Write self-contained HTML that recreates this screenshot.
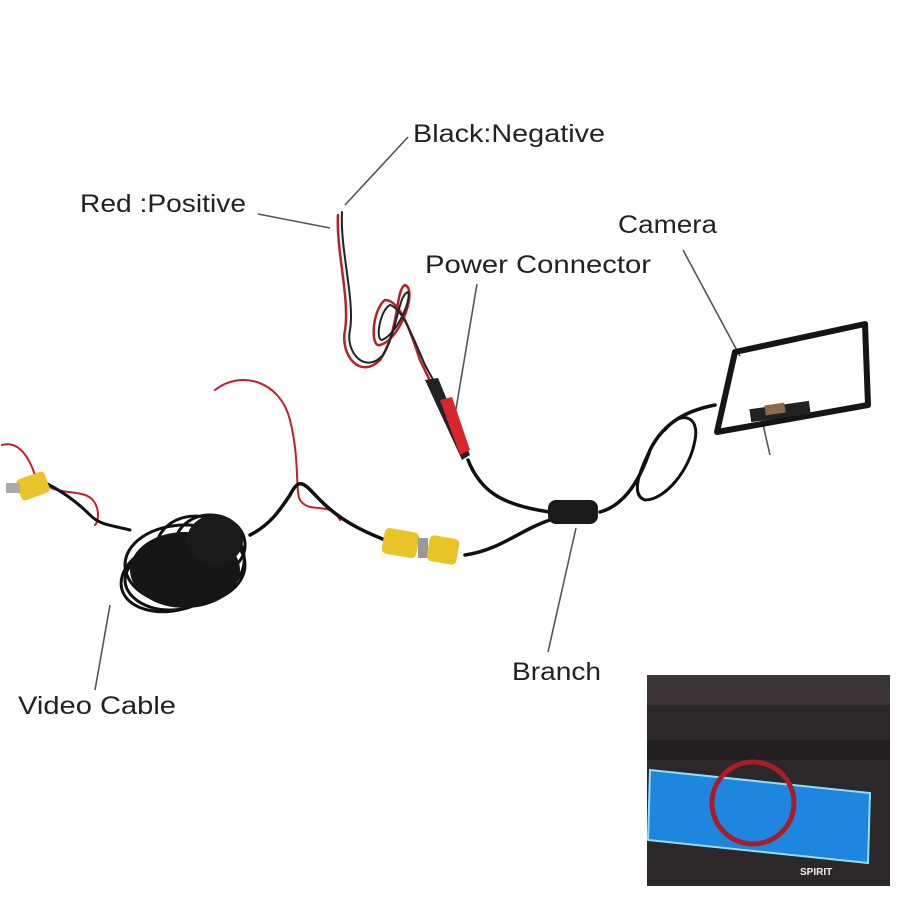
<!DOCTYPE html>
<html><head><style>
html,body{margin:0;padding:0;background:#fff;}
svg{display:block}
text{font-family:"Liberation Sans",sans-serif;font-size:25px;fill:#222}
</style></head><body>
<svg width="900" height="900" viewBox="0 0 900 900">
<rect width="900" height="900" fill="#fff"/>
<g stroke="#555" stroke-width="1.6" fill="none">
<line x1="408" y1="137" x2="345" y2="205"/>
<line x1="258" y1="214" x2="330" y2="228"/>
<line x1="683" y1="250" x2="740" y2="356"/>
<line x1="477" y1="284" x2="455" y2="415"/>
<line x1="576" y1="528" x2="548" y2="652"/>
<line x1="110" y1="605" x2="95" y2="690"/>
<line x1="762" y1="420" x2="770" y2="455"/>
</g>
<g fill="none" stroke-linecap="round">
<path d="M338,215 C336,250 350,300 345,330 C340,355 360,380 380,360 C400,330 395,290 405,285 C418,290 400,340 380,345 C370,348 372,310 385,300 C400,300 410,330 420,360 L432,385" stroke="#b5222a" stroke-width="2.5"/>
<path d="M342,212 C340,250 355,300 350,330 C345,352 365,375 383,355 C398,330 398,295 408,292 C412,300 396,335 382,340 C375,340 380,310 390,305 C402,308 412,335 425,365 L436,385" stroke="#222" stroke-width="2"/>
<path d="M215,390 C240,370 280,380 290,420 C300,460 295,490 300,500 C310,515 330,500 340,520" stroke="#c0202a" stroke-width="2"/>
<path d="M2,445 C20,440 30,460 35,475 C50,495 70,490 85,495 C100,500 100,520 95,525" stroke="#c0202a" stroke-width="2"/>
<path d="M468,460 C480,490 500,505 550,512" stroke="#111" stroke-width="3.5"/>
<path d="M600,512 C625,505 640,480 650,450 C665,420 690,410 715,405" stroke="#111" stroke-width="3.5"/>
<path d="M650,450 C640,470 630,495 645,500 C665,500 690,470 695,440 C700,415 680,410 665,430" stroke="#111" stroke-width="3"/>
<path d="M550,520 C520,530 500,550 465,555" stroke="#111" stroke-width="3.5"/>
<path d="M385,540 C360,530 340,520 320,500 C305,485 300,475 290,495 C280,510 270,525 250,535" stroke="#111" stroke-width="3.5"/>
<path d="M40,480 C60,490 75,500 90,515 C100,525 110,525 130,530" stroke="#111" stroke-width="3"/>
</g>
<g fill="none" stroke="#111" stroke-width="3">
<ellipse cx="185" cy="565" rx="60" ry="40"/>
<ellipse cx="175" cy="575" rx="55" ry="35" transform="rotate(-15 175 575)"/>
<ellipse cx="200" cy="555" rx="45" ry="38" transform="rotate(20 200 555)"/>
<ellipse cx="170" cy="580" rx="45" ry="30"/>
<ellipse cx="210" cy="545" rx="35" ry="30"/>
</g>
<ellipse cx="185" cy="570" rx="55" ry="38" fill="#161616"/>
<ellipse cx="215" cy="540" rx="28" ry="25" fill="#1a1a1a"/>
<path d="M425,380 L438,378 L470,455 L462,460 Z" fill="#222"/>
<path d="M440,400 L452,397 L470,450 L460,455 Z" fill="#d8262a"/>
<rect x="548" y="500" width="50" height="24" rx="8" fill="#1a1a1a"/>
<rect x="383" y="530" width="35" height="26" rx="5" fill="#e9c428" transform="rotate(10 400 543)"/>
<rect x="418" y="538" width="10" height="20" fill="#999"/>
<rect x="428" y="537" width="30" height="26" rx="5" fill="#e9c428" transform="rotate(10 443 550)"/>
<rect x="18" y="475" width="30" height="22" rx="4" fill="#e9c428" transform="rotate(-20 33 486)"/>
<rect x="6" y="483" width="14" height="10" fill="#aaa"/>
<path d="M735,352 L865,324 L868,405 L717,432 Z" fill="none" stroke="#151515" stroke-width="6" stroke-linejoin="round"/>
<rect x="750" y="405" width="60" height="13" fill="#222" transform="rotate(-8 780 411)"/>
<rect x="765" y="404" width="20" height="10" fill="#8a6a50" transform="rotate(-8 775 409)"/>
<text x="413" y="142" textLength="192" lengthAdjust="spacingAndGlyphs">Black:Negative</text>
<text x="80" y="212" textLength="166" lengthAdjust="spacingAndGlyphs">Red :Positive</text>
<text x="618" y="233" textLength="99" lengthAdjust="spacingAndGlyphs">Camera</text>
<text x="425" y="273" textLength="226" lengthAdjust="spacingAndGlyphs">Power Connector</text>
<text x="512" y="680" textLength="89" lengthAdjust="spacingAndGlyphs">Branch</text>
<text x="18" y="714" textLength="158" lengthAdjust="spacingAndGlyphs">Video Cable</text>
<rect x="647" y="675" width="243" height="211" fill="#2c2729"/>
<rect x="647" y="675" width="243" height="30" fill="#3a3436"/>
<rect x="647" y="740" width="243" height="20" fill="#231f21"/>
<path d="M650,770 L870,793 L868,863 L648,840 Z" fill="#1e86de" stroke="#8fe0f5" stroke-width="2"/>
<circle cx="753" cy="803" r="41" fill="none" stroke="#a81e28" stroke-width="5"/>
<text x="800" y="875" style="font-size:10px;fill:#eee;font-weight:bold">SPIRIT</text>
</svg>
</body></html>
